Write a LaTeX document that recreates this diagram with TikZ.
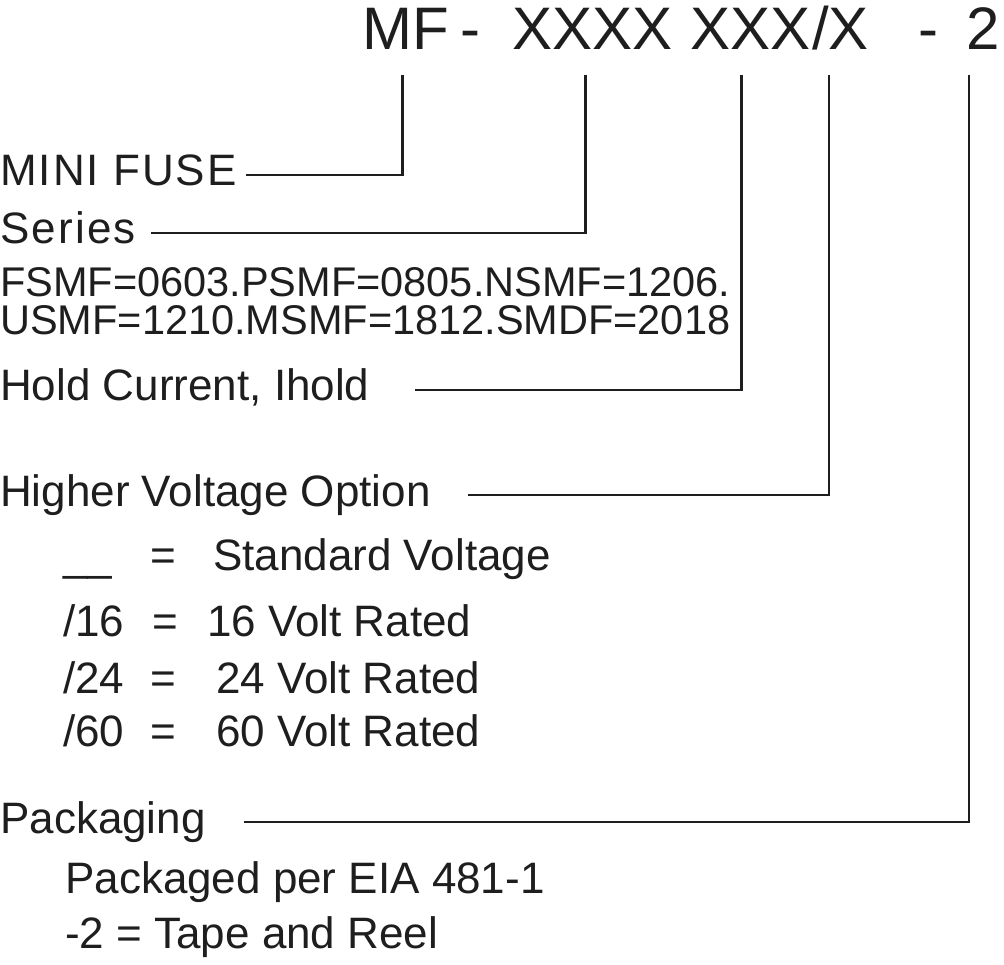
\documentclass[tikz,border=0pt]{standalone}
\usepackage{fontspec}
\setmainfont{Liberation Sans}
\usepackage{tikz}
\usetikzlibrary{positioning}
\definecolor{ink}{HTML}{1E1E1E}
\tikzset{
  txt/.style={anchor=base west, inner sep=0pt, text=ink, font=\fontsize{44}{48}\selectfont},
  code/.style={txt, font=\fontsize{60}{64}\selectfont},
  tag/.style={txt, text height=22pt, text depth=0pt},
  note/.style={txt, font=\fontsize{41.5}{44}\selectfont},
  lead/.style={draw=ink, line width=2.6pt},
}
\begin{document}
\begin{tikzpicture}[x=1pt, y=-1pt]
  \useasboundingbox (0,0) rectangle (1004,965);
  % part number
  \node[code] (mf) at (362,50) {MF};
  \node[code] (d1) at (460,50) {-};
  \node[code] (ser) at (512,50) {XXXX};
  \node[code] (cur) at (690,50) {XXX};
  \node[code] (opt) at (812,50) {/X};
  \node[code] (d2) at (918,50) {-};
  \node[code] (pk) at (966,50) {2};
  % fields
  \node[tag] (mini) at (0,186) {\addfontfeature{LetterSpace=4.5}MINI FUSE};
  \node[tag] (series) at (0,244) {\addfontfeature{LetterSpace=5}Series};
  \node[note] (sz1) at (0,297) {FSMF=0603.PSMF=0805.NSMF=1206.};
  \node[note] (sz2) at (0,335) {USMF=1210.MSMF=1812.SMDF=2018};
  \node[tag] (hold) at (0,401) {Hold Current, Ihold};
  \node[tag] (hv) at (0,506) {Higher Voltage Option};
  \node[txt] (v0) at (63,570) {\_\_};
  \node[txt] (e0) at (150,570) {=};
  \node[txt] (t0) at (213,570) {Standard Voltage};
  \node[txt] (v1) at (63,636) {/16};
  \node[txt] (e1) at (152,636) {=};
  \node[txt] (t1) at (207,636) {16 Volt Rated};
  \node[txt] (v2) at (63,693) {/24};
  \node[txt] (e2) at (150,693) {=};
  \node[txt] (t2) at (216,693) {24 Volt Rated};
  \node[txt] (v3) at (63,746) {/60};
  \node[txt] (e3) at (150,746) {=};
  \node[txt] (t3) at (216,746) {60 Volt Rated};
  \node[tag] (pack) at (0,833) {Packaging};
  \node[txt] (eia) at (65,893) {Packaged per EIA 481-1};
  \node[txt] (reel) at (65,948) {-2 = Tape and Reel};
  % leaders
  \draw[lead] ([xshift=-3pt,yshift=-25pt]mf.base) |- ([xshift=9pt]mini.east);
  \draw[lead] ([xshift=-7pt,yshift=-25pt]ser.base) |- ([xshift=15pt]series.east);
  \draw[lead] ([xshift=-9pt,yshift=-25pt]cur.base) |- ([xshift=45pt]hold.east);
  \draw[lead] ([xshift=17pt,yshift=-25pt]opt.base west) |- ([xshift=37pt]hv.east);
  \draw[lead] ([xshift=3pt,yshift=-25pt]pk.base west) |- ([xshift=38pt]pack.east);
\end{tikzpicture}
\end{document}
